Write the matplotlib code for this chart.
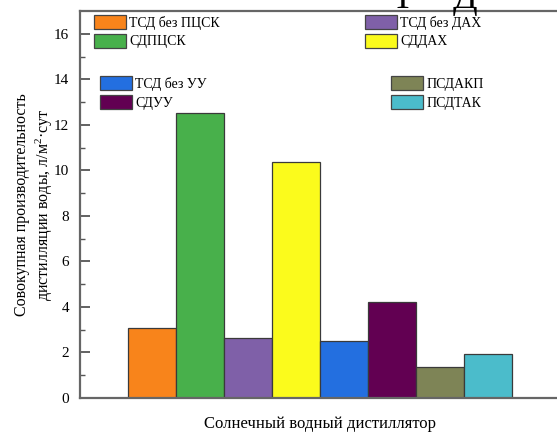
import matplotlib
matplotlib.use("Agg")
import matplotlib.pyplot as plt
from matplotlib.patches import Patch

plt.rcParams['font.family'] = ['Liberation Serif', 'DejaVu Serif']
plt.rcParams['mathtext.fontset'] = 'custom'
plt.rcParams['mathtext.rm'] = 'Liberation Serif'
plt.rcParams['mathtext.it'] = 'Liberation Serif:italic'

categories = ["ТСД без ПЦСК", "СДПЦСК", "ТСД без ДАХ", "СДДАХ",
              "ТСД без УУ", "СДУУ", "ПСДАКП", "ПСДТАК"]
values = [3.07, 12.5, 2.63, 10.35, 2.5, 4.2, 1.36, 1.93]
colors = ["#F8841B", "#48B04B", "#7F60A8", "#FBFB1C",
          "#236FE0", "#620052", "#7E8456", "#4BBCCB"]
yticks = [0, 2, 4, 6, 8, 10, 12, 14, 16]

W, H = 557, 432
fig = plt.figure(figsize=(W / 100, H / 100), dpi=100)
left, right, top, bottom = 80, 560, 11, 398
ax = fig.add_axes([left / W, 1 - bottom / H, (right - left) / W, (bottom - top) / H])

x = list(range(len(categories)))
bars = ax.bar(x, values, width=1.0, color=colors, edgecolor="#3a3a3a", linewidth=0.9)

ax.set_xlim(-1.5, 8.5)
ax.set_ylim(0, 17)
ax.set_yticks(yticks)
ax.set_yticklabels([str(t) for t in yticks], fontsize=11)
ax.set_yticks(range(0, 17), minor=True)
ax.set_xticks([])
ax.tick_params(axis='y', which='major', direction='in', length=7, width=1.3, color="#555555", pad=8)
ax.tick_params(axis='y', which='minor', direction='in', length=3.5, width=1.0, color="#555555")
for s in ax.spines.values():
    s.set_color("#666666")
    s.set_linewidth(1.6)

ax.set_xlabel("Солнечный водный дистиллятор", fontsize=12, labelpad=13)
ax.set_ylabel("Совокупная производительность\nдистилляции воды, л/м$^{2}$·сут", fontsize=11.5, labelpad=-1,
              linespacing=1.25)

# legends placed as four single-column blocks
groups = [([0, 1], (94, 15)), ([2, 3], (365, 15)), ([4, 5], (100, 76)), ([6, 7], (391, 76))]
for idx, (px, py) in groups:
    handles = [Patch(facecolor=colors[i], edgecolor="#444444", linewidth=0.9) for i in idx]
    labels = [categories[i] for i in idx]
    fig.legend(handles, labels, loc='upper left',
               bbox_to_anchor=(px / W, 1 - py / H), bbox_transform=fig.transFigure,
               frameon=False, borderpad=0, borderaxespad=0, fontsize=10,
               handlelength=2.3, handleheight=1.2, handletextpad=0.25, labelspacing=0.28)

# cropped caption fragments at the very top (cut off in the reference too)
fig.text(402 / W, 1 - 8 / H, "Т", fontsize=26, ha='center', va='baseline')
fig.text(465 / W, 1 - 8 / H, "Д", fontsize=26, ha='center', va='baseline')

fig.savefig("out.png", dpi=100)
